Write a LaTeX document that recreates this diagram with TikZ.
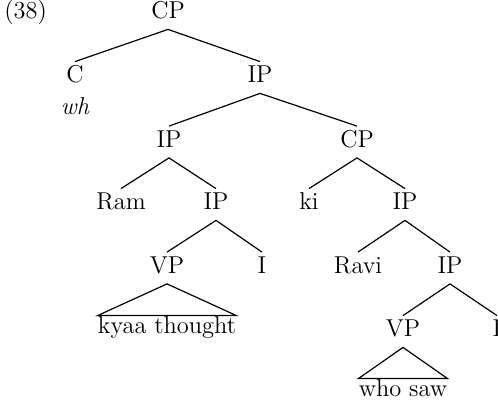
\documentclass[tikz,border=0pt]{standalone}
\begin{document}
\begin{tikzpicture}[x=0.5pt,y=-0.5pt,
  every node/.style={font=\fontsize{12.2}{14}\selectfont},
  cat/.style={anchor=base,inner sep=0pt,text height=10.5pt,text depth=5pt},
  leaf/.style={anchor=base,inner sep=0pt,text height=9pt,text depth=0pt},
  br/.style={line width=0.6pt}]
\useasboundingbox (0,0) rectangle (498,405);
\node[anchor=base west,inner sep=0pt] (ex) at (4,19) {(38)};
\node[cat] (cp0) at (168,19) {CP};
\node[cat] (c) at (75,83) {C};
\node[anchor=base,inner sep=0pt] (wh) at (75,115) {\itshape wh};
\node[cat] (ip1) at (260,83) {IP};
\node[cat] (ip2) at (169,147.5) {IP};
\node[cat] (cp2) at (357,147.5) {CP};
\node[cat] (ram) at (121,210) {Ram};
\node[cat] (ip3) at (216,210) {IP};
\node[cat] (ki) at (309,210) {ki};
\node[cat] (ip4) at (405,210) {IP};
\node[cat] (vp1) at (167,273.5) {VP};
\node[cat] (i1) at (262,273.5) {I};
\node[cat] (ravi) at (358,273.5) {Ravi};
\node[cat] (ip5) at (450,273.5) {IP};
\node[cat] (vp2) at (403,337) {VP};
\node[cat] (i2) at (497,337) {I};
\node[leaf] (kt) at (167,334) {kyaa thought};
\node[leaf] (ws) at (403,397) {who saw};
\draw[br] (c.north) -- (cp0.south) -- (ip1.north);
\draw[br] (ip2.north) -- (ip1.south) -- (cp2.north);
\draw[br] (ram.north) -- (ip2.south) -- (ip3.north);
\draw[br] (ki.north) -- (cp2.south) -- (ip4.north);
\draw[br] (vp1.north) -- (ip3.south) -- (i1.north);
\draw[br] (ravi.north) -- (ip4.south) -- (ip5.north);
\draw[br] (vp2.north) -- (ip5.south) -- (i2.north);
\draw[br] (kt.north west) -- (vp1.south) -- (kt.north east) -- cycle;
\draw[br] (ws.north west) -- (vp2.south) -- (ws.north east) -- cycle;
\end{tikzpicture}
\end{document}
